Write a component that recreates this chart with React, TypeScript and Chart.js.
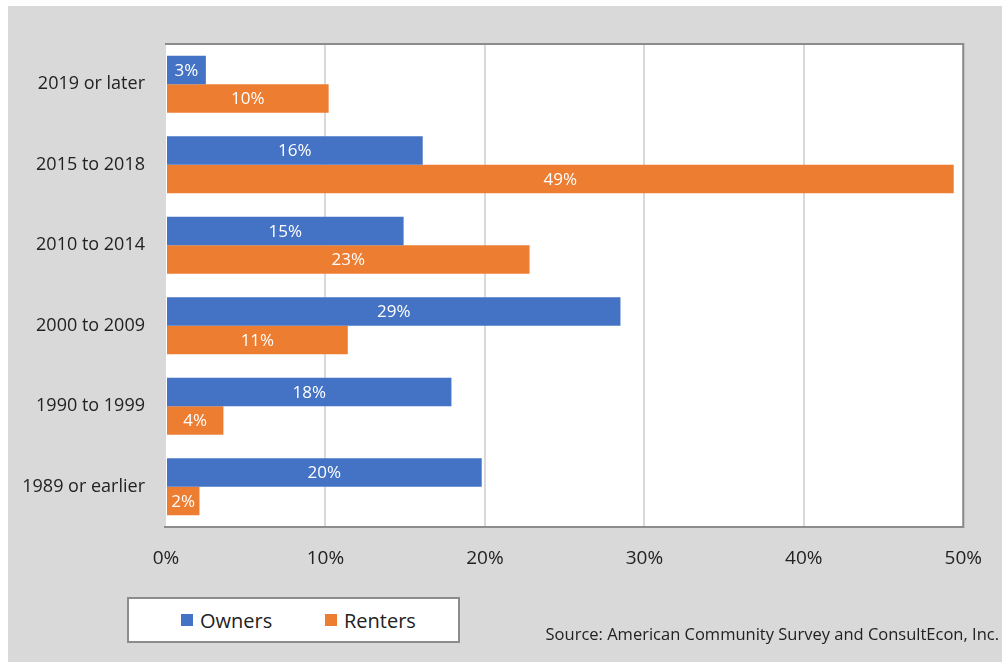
import React, { useEffect, useRef } from "react";
import { Chart, registerables } from "chart.js";

Chart.register(...registerables);

const categories = [
  "2019 or later",
  "2015 to 2018",
  "2010 to 2014",
  "2000 to 2009",
  "1990 to 1999",
  "1989 or earlier",
];
const owners = [2.5, 16.1, 14.9, 28.5, 17.9, 19.8];
const renters = [10.2, 49.4, 22.8, 11.4, 3.6, 2.1];
const seriesNames = ["Owners", "Renters"];
const seriesColors = ["#4472C4", "#ED7D31"];
const sourceText = "Source: American Community Survey and ConsultEcon, Inc.";

const FONT = "'Open Sans', sans-serif";
const TEXT = "#222222";

const plotBgPlugin = {
  id: "plotBg",
  beforeDraw(chart: any) {
    const { ctx, chartArea } = chart;
    ctx.save();
    ctx.fillStyle = "#ffffff";
    ctx.fillRect(chartArea.left, chartArea.top, chartArea.right - chartArea.left, chartArea.bottom - chartArea.top);
    ctx.restore();
  },
  afterDraw(chart: any) {
    const { ctx, chartArea } = chart;
    ctx.save();
    ctx.strokeStyle = "#8c8c8c";
    ctx.lineWidth = 2;
    ctx.beginPath();
    ctx.moveTo(chartArea.left - 1, chartArea.top);
    ctx.lineTo(chartArea.right, chartArea.top);
    ctx.lineTo(chartArea.right, chartArea.bottom);
    ctx.lineTo(chartArea.left - 2, chartArea.bottom);
    ctx.stroke();
    ctx.restore();
  },
};

const labelPlugin = {
  id: "barLabels",
  afterDatasetsDraw(chart: any) {
    const { ctx } = chart;
    ctx.save();
    ctx.fillStyle = "#ffffff";
    ctx.font = `17px ${FONT}`;
    ctx.textAlign = "center";
    ctx.textBaseline = "middle";
    chart.data.datasets.forEach((ds: any, di: number) => {
      const meta = chart.getDatasetMeta(di);
      meta.data.forEach((el: any, i: number) => {
        const { x, y, base } = el.getProps(["x", "y", "base"], true);
        ctx.fillText(Math.round(ds.data[i]) + "%", (x + base) / 2, y + 1);
      });
    });
    ctx.restore();
  },
};

export default function App() {
  const ref = useRef<HTMLCanvasElement>(null);
  useEffect(() => {
    if (!ref.current) return;
    const chart = new Chart(ref.current, {
      type: "bar",
      data: {
        labels: categories,
        datasets: [
          { label: seriesNames[0], data: owners, backgroundColor: seriesColors[0] },
          { label: seriesNames[1], data: renters, backgroundColor: seriesColors[1] },
        ],
      },
      options: {
        indexAxis: "y",
        animation: false,
        responsive: false,
        maintainAspectRatio: false,
        datasets: { bar: { barPercentage: 1, categoryPercentage: 0.71 } },
        layout: { padding: { top: 38, right: 37, left: 0, bottom: 0 } },
        plugins: { legend: { display: false }, tooltip: { enabled: false } },
        scales: {
          x: {
            min: 0,
            max: 50,
            ticks: {
              stepSize: 10,
              padding: 20,
              color: TEXT,
              font: { family: FONT, size: 19 },
              callback: (v: any) => v + "%",
            },
            grid: {
              drawTicks: false,
              lineWidth: 2,
              color: (c: any) => (c.index === 0 ? "rgba(0,0,0,0)" : "#d9d9d9"),
            },
            border: { display: false },
            afterFit: (s: any) => {
              s.height = 135;
            },
          },
          y: {
            ticks: {
              padding: 21,
              color: TEXT,
              font: { family: FONT, size: 18 },
            },
            grid: { display: false, drawTicks: false },
            border: { display: false },
            afterFit: (s: any) => {
              s.width = 158;
            },
          },
        },
      },
      plugins: [plotBgPlugin, labelPlugin],
    });
    return () => chart.destroy();
  }, []);

  return (
    <div
      style={{
        position: "absolute",
        left: 8,
        top: 6,
        width: 994,
        height: 656,
        background: "#d9d9d9",
        fontFamily: FONT,
      }}
    >
      <canvas ref={ref} width={994} height={656} style={{ position: "absolute", left: 0, top: 0 }} />
      <div
        style={{
          position: "absolute",
          left: 119,
          top: 591,
          width: 329,
          height: 42,
          background: "#ffffff",
          border: "2px solid #8c8c8c",
        }}
      >
        {seriesNames.map((n, i) => (
          <div
            key={n}
            style={{
              position: "absolute",
              left: i === 0 ? 52 : 196,
              top: 0,
              height: 42,
              display: "flex",
              alignItems: "center",
              color: TEXT,
              fontSize: 20,
            }}
          >
            <span style={{ width: 12, height: 12, background: seriesColors[i], display: "inline-block", marginRight: 7 }} />
            <span>{n}</span>
          </div>
        ))}
      </div>
      <div
        style={{
          position: "absolute",
          right: 3,
          top: 616,
          color: TEXT,
          fontSize: 16.5,
          whiteSpace: "nowrap",
        }}
      >
        {sourceText}
      </div>
    </div>
  );
}
